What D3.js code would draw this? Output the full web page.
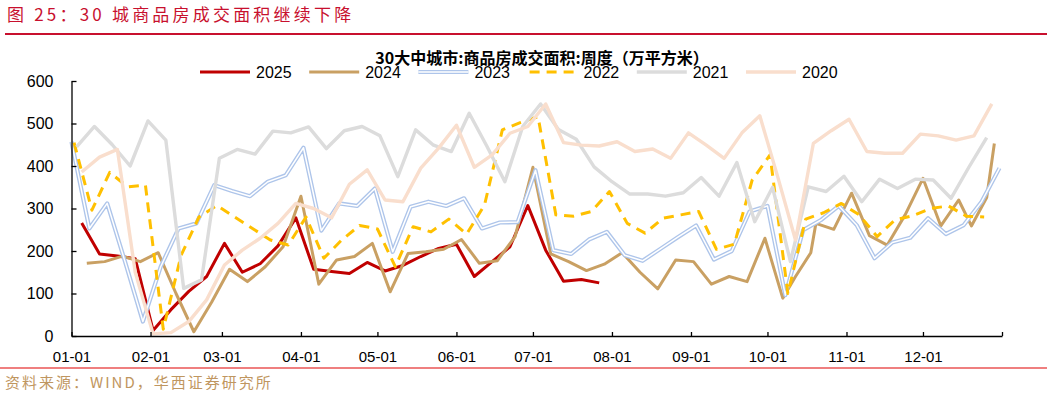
<!DOCTYPE html>
<html><head><meta charset="utf-8">
<script src="https://cdn.jsdelivr.net/npm/d3@7"></script>
<style>
body{margin:0;background:#fff}
svg{display:block}
text{font-family:"Liberation Sans",Arial,sans-serif}
.cjk{font-family:"Noto Sans CJK SC","Noto Sans",sans-serif}
</style></head>
<body>
<svg id="c" width="1053" height="396"></svg>
<script>
// ---------------- data ----------------
const pageTitle = "图 25：30 城商品房成交面积继续下降";
const chartTitle = "30大中城市:商品房成交面积:周度（万平方米）";
const sourceText = "资料来源：WIND，华西证券研究所";
const seriesNames = ["2025","2024","2023","2022","2021","2020"];
const yTicks = [0,100,200,300,400,500,600];
const xTickDates = ["01-01","02-01","03-01","04-01","05-01","06-01","07-01","08-01","09-01","10-01","11-01","12-01"];

// weekly series: first week date (MM-DD) + weekly values
const start2025 = "01-05";
const values2025 = [266,193,188,182,13,62,105,140,218,150,170,212,278,157,152,147,173,153,166,187,206,216,140,175,210,307,202,129,133,125];

const dates2024 = ["01-07","01-14","01-21","01-28","02-04","02-11","02-18","02-25","03-04","03-11","03-18","03-25","04-01","04-08","04-15","04-22","04-29","05-06","05-13","05-20","05-27","06-03","06-10","06-17","06-24","07-01","07-08","07-15","07-22","07-29","08-05","08-12","08-19","08-26","09-02","09-09","09-16","09-23","09-30","10-07","10-12","10-18","10-20","10-27","11-03","11-10","11-17","11-24","12-01","12-08","12-15","12-20","12-26","12-29"];
const values2024 = [171,175,188,175,196,100,10,80,157,128,163,210,329,122,179,187,218,104,194,198,204,227,171,177,234,397,193,175,154,169,196,150,111,179,175,122,140,128,230,89,140,196,265,251,336,236,214,285,371,259,320,259,326,453];

const start2023 = "01-01";
const values2023 = [457,253,312,175,34,163,253,265,355,341,329,363,378,443,248,312,306,347,198,304,316,306,324,253,267,268,390,202,193,227,245,190,177,205,233,260,180,200,293,306,96,249,273,306,261,183,220,231,277,240,261,316,395];

const start2022 = "01-02";
const values2022 = [455,296,385,351,355,16,190,280,307,280,253,226,214,280,183,226,260,252,163,257,245,275,240,308,485,502,516,285,282,293,340,265,242,277,285,293,204,216,367,426,100,275,290,312,285,234,273,283,300,306,282,280];

const start2021 = "01-03";
const values2021 = [445,493,450,400,506,461,112,132,418,439,428,482,478,492,441,483,493,471,375,485,449,434,524,446,363,493,546,486,463,398,363,334,334,329,337,373,329,408,269,350,175,351,340,376,316,369,347,369,367,324,397,467];

const start2020 = "01-05";
const values2020 = [386,421,439,150,5,8,34,85,167,202,230,265,312,300,278,357,391,320,316,395,442,496,397,426,477,493,546,455,449,447,457,434,440,418,478,449,418,478,518,375,226,453,483,510,434,430,430,475,471,461,471,546];

// ---------------- helpers ----------------
const parse = d3.timeParse("%Y-%m-%d");
const md = s => parse("2025-" + s);
const weekly = (start, vals) => vals.map((v, i) => ({d: d3.timeDay.offset(md(start), 7 * i), v}));
const dated = (dates, vals) => vals.map((v, i) => ({d: md(dates[i]), v}));

const series = [
  {name: seriesNames[0], pts: weekly(start2025, values2025), color: "#C00000", w: 3},
  {name: seriesNames[1], pts: dated(dates2024, values2024), color: "#C9A063", w: 3},
  {name: seriesNames[2], pts: weekly(start2023, values2023), color: "#AEC5EA", w: 4.2, double: true},
  {name: seriesNames[3], pts: weekly(start2022, values2022), color: "#FFC000", w: 3, dash: "10,7"},
  {name: seriesNames[4], pts: weekly(start2021, values2021), color: "#DCDCDC", w: 3.4},
  {name: seriesNames[5], pts: weekly(start2020, values2020), color: "#F9DECD", w: 3.4}
];

const svg = d3.select("#c");
const L = 71.5, R = 1002, T = 81, B = 336;
const x = d3.scaleTime().domain([md("01-01"), parse("2026-01-01")]).range([L, R]);
const y = d3.scaleLinear().domain([0, 600]).range([B, T]);

// page title & rules
svg.append("text").attr("class","cjk").attr("x",7).attr("y",20.5)
  .attr("font-size",17).attr("fill","#C8102E").attr("letter-spacing",3.2).text(pageTitle);
svg.append("line").attr("x1",5).attr("x2",1047).attr("y1",34).attr("y2",34)
  .attr("stroke","#C8102E").attr("stroke-width",2);
svg.append("line").attr("x1",0).attr("x2",1047).attr("y1",368).attr("y2",368)
  .attr("stroke","#E00000").attr("stroke-width",1.2);
svg.append("text").attr("class","cjk").attr("x",5).attr("y",388)
  .attr("font-size",15).attr("fill","#BF9660").attr("letter-spacing",2).text(sourceText);

// lines
const line = d3.line().x(p => x(p.d)).y(p => y(p.v));
const g = svg.append("g");
series.forEach(s => {
  const p = g.append("path").datum(s.pts).attr("d", line).attr("fill","none")
    .attr("stroke", s.color).attr("stroke-width", s.w).attr("stroke-linejoin","round");
  if (s.dash) p.attr("stroke-dasharray", s.dash);
  if (s.double) g.append("path").datum(s.pts).attr("d", line).attr("fill","none")
    .attr("stroke","#fff").attr("stroke-width",1.5).attr("stroke-linejoin","round");
});

// axes
const xAxis = d3.axisBottom(x)
  .tickValues(xTickDates.map(md).concat([parse("2026-01-01")]))
  .tickSizeInner(-4).tickSizeOuter(0)
  .tickFormat((d, i) => i < xTickDates.length ? d3.timeFormat("%m-%d")(d) : "");
const gx = svg.append("g").attr("transform",`translate(0,${B})`).call(xAxis);
gx.selectAll("text").attr("y", 15).attr("dy","0.71em").attr("font-size",15)
  .attr("fill","#000").style("font-family",'"Liberation Sans",Arial,sans-serif');

const yAxis = d3.axisLeft(y).tickValues(yTicks).tickSizeInner(-5).tickSizeOuter(0).tickPadding(18);
const gy = svg.append("g").attr("transform",`translate(${L},0)`).call(yAxis);
gy.selectAll("text").attr("font-size",16).attr("fill","#000")
  .style("font-family",'"Liberation Sans",Arial,sans-serif');
svg.selectAll(".domain, .tick line").attr("stroke","#000").attr("stroke-width",1.3);

// legend
const lg = svg.append("g");
series.forEach((s, i) => {
  const lx = 200 + i * 109.2, ly = 72;
  const ln = lg.append("line").attr("x1", lx).attr("x2", lx + 50).attr("y1", ly).attr("y2", ly)
    .attr("stroke", s.color).attr("stroke-width", s.w);
  if (s.dash) ln.attr("stroke-dasharray", s.dash).attr("stroke-dashoffset", -2);
  if (s.double) lg.append("line").attr("x1", lx).attr("x2", lx + 50).attr("y1", ly).attr("y2", ly)
    .attr("stroke","#fff").attr("stroke-width",1.5);
  lg.append("text").attr("x", lx + 56).attr("y", ly).attr("dy","0.36em")
    .attr("font-size",16).attr("fill","#000").text(s.name);
});

// chart title (drawn over the legend, as in the reference)
svg.append("text").attr("class","cjk").attr("x",542).attr("y",64)
  .attr("text-anchor","middle").attr("font-size",16).attr("font-weight","bold")
  .attr("fill","#000").text(chartTitle);
</script>
</body></html>
